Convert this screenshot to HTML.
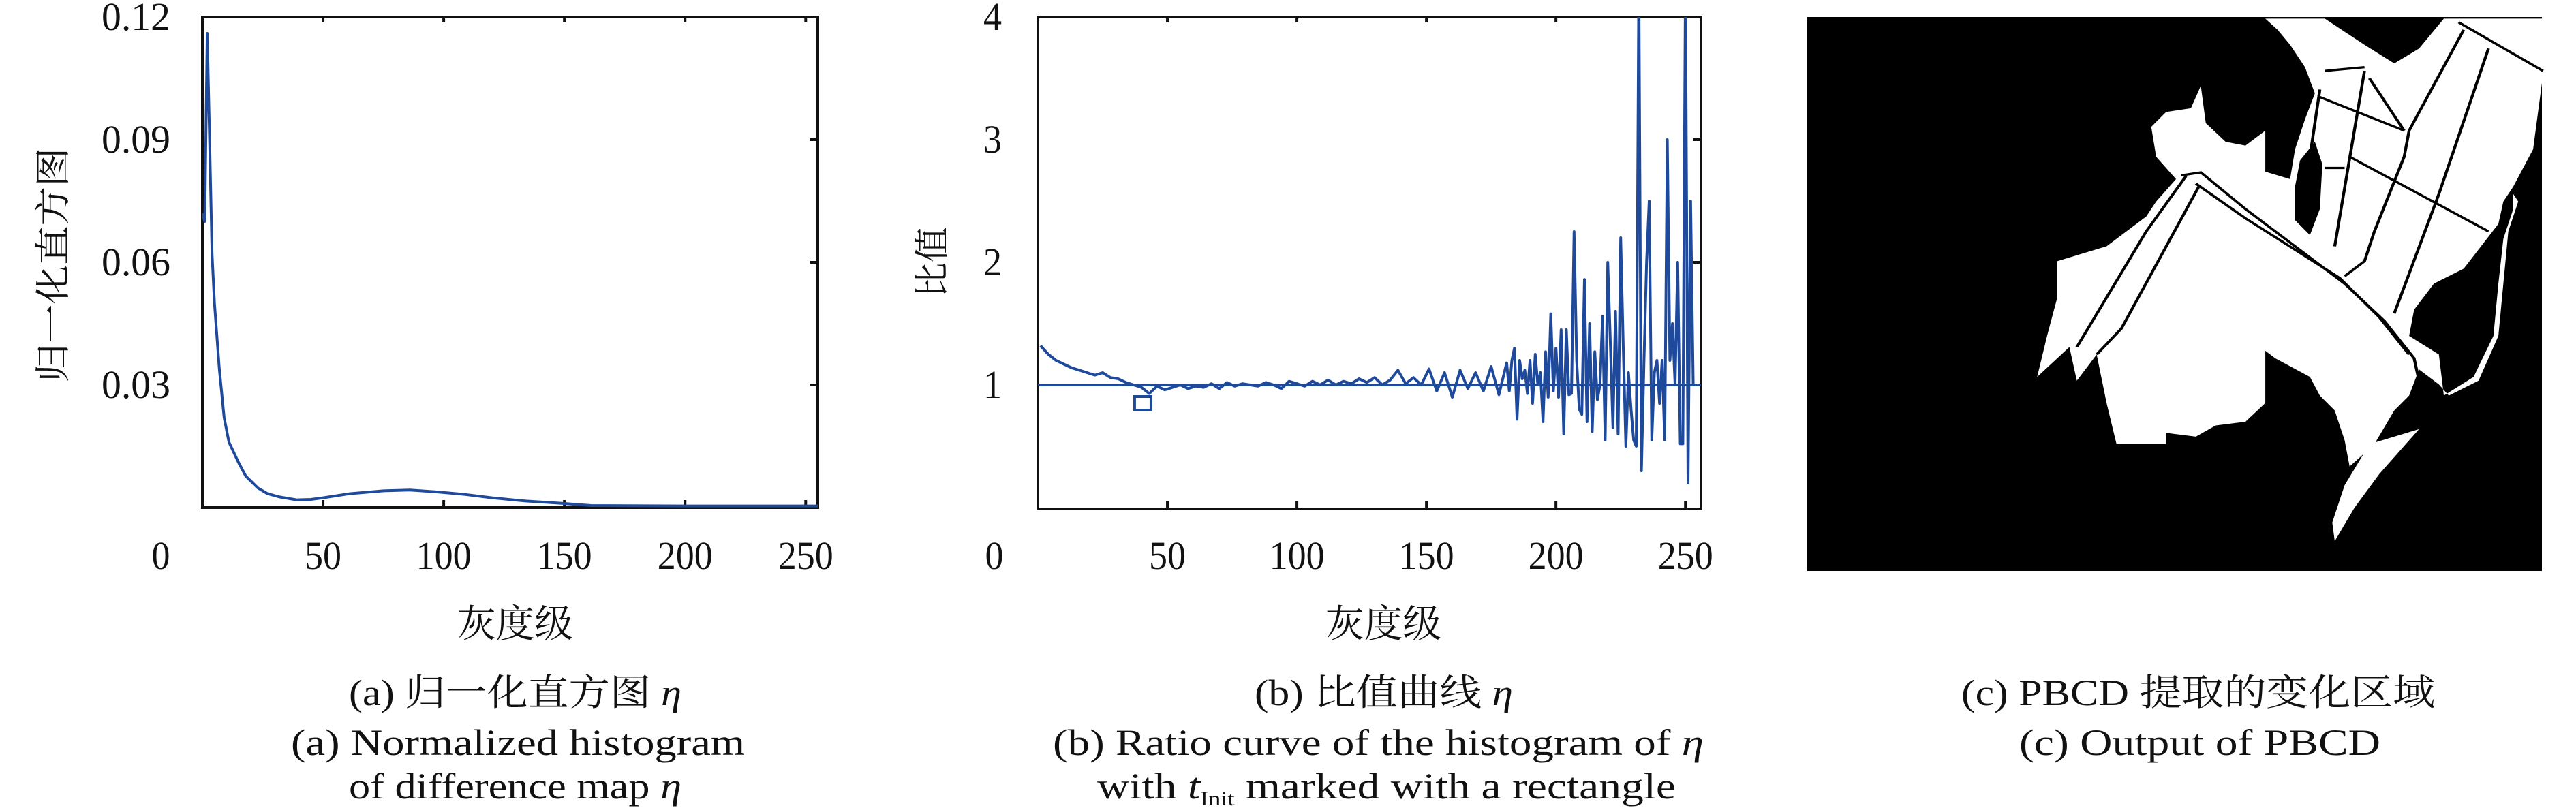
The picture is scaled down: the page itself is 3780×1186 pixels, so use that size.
<!DOCTYPE html>
<html><head><meta charset="utf-8">
<style>
html,body{margin:0;padding:0;background:#fff;}
body{width:3780px;height:1186px;position:relative;overflow:hidden;}
svg{position:absolute;left:0;top:0;}
text{font-family:"Liberation Serif","Noto Serif CJK SC",serif;fill:#111;}
</style></head>
<body>
<svg id="main" width="3780" height="1186" viewBox="0 0 3780 1186" xmlns="http://www.w3.org/2000/svg">
  <defs>
    <clipPath id="clip1"><rect x="297" y="25" width="903" height="720"/></clipPath>
    <clipPath id="clip2"><rect x="1523" y="25" width="973" height="722"/></clipPath>
  </defs>
  <g id="chart1"></g>
  <g id="chart2"></g>

  <text x="756" y="935" font-size="56" text-anchor="middle" textLength="170" lengthAdjust="spacingAndGlyphs">灰度级</text>
  <text x="2030" y="935" font-size="56" text-anchor="middle" textLength="170" lengthAdjust="spacingAndGlyphs">灰度级</text>
  <text transform="translate(96,389) rotate(-90)" font-size="52" text-anchor="middle" textLength="345" lengthAdjust="spacingAndGlyphs">归一化直方图</text>
  <text transform="translate(1386,385) rotate(-90)" font-size="52" text-anchor="middle" textLength="104" lengthAdjust="spacingAndGlyphs">比值</text>

  <text x="512" y="1035" font-size="54" textLength="488" lengthAdjust="spacingAndGlyphs">(a) 归一化直方图 <tspan font-style="italic">η</tspan></text>
  <text x="427" y="1108" font-size="54" textLength="666" lengthAdjust="spacingAndGlyphs">(a) Normalized histogram</text>
  <text x="512" y="1172" font-size="54" textLength="488" lengthAdjust="spacingAndGlyphs">of difference map <tspan font-style="italic">η</tspan></text>
  <text x="1841" y="1035" font-size="54" textLength="379" lengthAdjust="spacingAndGlyphs">(b) 比值曲线 <tspan font-style="italic">η</tspan></text>
  <text x="1545" y="1108" font-size="54" textLength="955" lengthAdjust="spacingAndGlyphs">(b) Ratio curve of the histogram of <tspan font-style="italic">η</tspan></text>
  <text x="1610" y="1172" font-size="54" textLength="849" lengthAdjust="spacingAndGlyphs">with <tspan font-style="italic">t</tspan><tspan font-size="30" dy="10">Init</tspan><tspan dy="-10"> marked with a rectangle</tspan></text>
  <text x="2878" y="1035" font-size="54" textLength="695" lengthAdjust="spacingAndGlyphs">(c) PBCD 提取的变化区域</text>
  <text x="2963" y="1108" font-size="54" textLength="530" lengthAdjust="spacingAndGlyphs">(c) Output of PBCD</text>

  <rect x="2652" y="25" width="1078" height="813" fill="#000"/>
  <svg x="2640" y="0" width="1128" height="860" viewBox="0 0 1550 1570" preserveAspectRatio="none">
    <path fill="#fff" d="M940,50 L1060,50 L1140,120 L1200,170 L1250,130 L1300,50 L1498,50 L1498,220 L1480,400 L1440,500 L1420,540 L1410,600 L1340,720 L1280,760 L1240,830 L1230,900 L1290,950 L1300,1060 L1360,1010 L1400,900 L1410,760 L1420,640 L1440,560 L1440,520 L1450,540 L1430,620 L1420,760 L1410,900 L1370,1020 L1310,1060 L1290,1030 L1250,990 L1230,1060 L1200,1100 L1160,1190 L1110,1250 L1100,1180 L1080,1100 L1050,1060 L1030,1010 L960,960 L940,940 L940,1080 L900,1130 L840,1140 L800,1170 L740,1160 L740,1190 L640,1190 L620,1080 L600,950 L560,1020 L545,930 L480,1010 L500,900 L520,800 L520,700 L620,660 L700,580 L720,540 L760,480 L740,450 L720,420 L710,340 L740,300 L790,290 L810,230 L820,330 L860,380 L900,390 L940,350 L940,460 L990,480 L1000,400 L1020,320 L1040,250 L1020,180 L990,120 L965,80 Z"/>
    <path fill="#fff" d="M1150,1190 L1250,1150 L1170,1270 L1120,1360 L1080,1450 L1075,1400 L1100,1300 Z"/>
    <path fill="#000" d="M1010,430 L1040,380 L1055,440 L1050,560 L1030,630 L1000,590 L1000,500 Z"/>
    <g fill="none" stroke="#000" stroke-width="6">
      <polyline points="770,470 810,462 900,560 1100,760 1180,860 1240,960 1250,1020"/>
      <polyline points="800,492 900,585 1090,745 1170,850 1230,950"/>
      <polyline points="808,495 650,880 600,950"/>
      <polyline points="780,472 700,620 560,930"/>
      <polyline points="1340,80 1230,350 1220,420 1160,620 1140,700 1100,740"/>
      <polyline points="1390,130 1290,520 1200,840"/>
      <polyline points="1330,60 1500,190"/>
      <polyline points="1050,260 1220,350"/>
      <polyline points="1140,190 1080,660"/>
      <polyline points="1150,210 1220,350"/>
      <polyline points="1110,420 1390,620"/>
      <polyline points="1060,190 1140,180"/>
      <polyline points="1050,240 1030,420"/>
      <polyline points="1060,450 1100,450"/>
    </g>
  </svg>
</svg>
<script>
// ---- Chart (a): normalized histogram ----
const histLevels = [0, 1, 2, 3, 4, 5, 7, 9, 11, 15, 18, 23, 27, 32, 39, 45, 50, 61, 75, 86, 98, 109, 120, 134, 150, 161, 200, 255];
const histValues = [0.072, 0.07, 0.116, 0.09, 0.062, 0.05, 0.034, 0.022, 0.016, 0.011, 0.0077, 0.0048, 0.0034, 0.0026, 0.0019, 0.002, 0.0024, 0.0034, 0.0041, 0.0043, 0.0038, 0.0032, 0.0024, 0.0016, 0.001, 0.0005, 0.0004, 0.0004];
const histXTicks = [0, 50, 100, 150, 200, 250];
const histYTicks = [0.03, 0.06, 0.09, 0.12];
const histYTickLabels = ["0.03", "0.06", "0.09", "0.12"];

// ---- Chart (b): ratio curve ----
const ratioLevels = [1,4,7,10,13,16,19,22,25,28,31,34,37,40,43,46,49,52,55,58,61,64,67,70,73,76,79,82,85,88,91,94,97,100,103,106,109,112,115,118,121,124,127,130,133,136,139,142,145,148,151,154,157,160,163,166,169,172,175,178,
181,182,183,184,185,186,187,188,189,190,191,192,193,194,195,196,197,198,199,200,201,202,203,204,205,206,207,208,209,210,211,212,213,214,215,216,217,218,219,220,221,222,223,224,225,226,227,228,229,230,231,232,233,234,235,236,237,238,239,240,241,242,243,244,245,246,247,248,249,250,251,252,253];
const ratioValues = [1.32,1.25,1.2,1.17,1.14,1.12,1.1,1.08,1.1,1.06,1.05,1.02,1.0,0.98,0.93,0.99,0.96,0.98,1.0,0.97,0.99,0.98,1.01,0.97,1.02,0.99,1.01,1.0,0.99,1.02,1.0,0.97,1.03,1.01,0.99,1.03,1.0,1.04,1.0,1.03,1.01,1.05,1.02,1.06,1.0,1.04,1.12,1.01,1.06,1.0,1.13,0.95,1.1,0.9,1.12,0.97,1.1,0.95,1.15,0.92,
1.18,0.95,1.2,1.3,0.72,1.2,1.05,1.12,0.93,1.2,0.85,1.25,1.0,1.1,0.7,1.27,0.9,1.58,0.95,1.3,0.9,1.45,0.6,1.45,0.92,0.93,2.25,1.2,0.8,0.76,1.86,0.7,1.5,0.62,1.27,0.88,1.0,1.56,0.55,2.0,1.35,0.65,1.6,0.6,2.2,1.3,0.5,1.1,0.8,0.55,0.5,4.3,0.3,1.2,2.0,2.5,0.55,1.1,1.2,0.85,1.2,0.55,3.0,1.2,1.5,1.0,2.0,0.52,0.52,4.3,0.2,2.5,1.0];
const ratioXTicks = [0, 50, 100, 150, 200, 250];
const ratioYTicks = [1, 2, 3, 4];
const ratioYTickLabels = ["1", "2", "3", "4"];
const baselineValue = [1];
const tInitLevel = [40.5];
const tInitValue = [0.85];

const NS = "http://www.w3.org/2000/svg";
function mk(tag, attrs, parent) {
  const el = document.createElementNS(NS, tag);
  for (const k in attrs) el.setAttribute(k, attrs[k]);
  parent.appendChild(el);
  return el;
}
const BLUE = "#1f4a9c";

function drawAxesFrame(g, L, R, T, B, xs, ys, xTicks, yTicks, yLabels, yLabelRight, xLabelY, zeroLabelX, nameKey) {
  const frame = mk("rect", {x: L, y: T, width: R - L, height: B - T, fill: "none", stroke: "#111", "stroke-width": 4}, g);
  
  
  xTicks.forEach(v => {
    const x = xs(v);
    if (v > 0) {
      const t1 = mk("line", {x1: x, x2: x, y1: B, y2: B - 11, stroke: "#111", "stroke-width": 4}, g);
      
      
      const t2 = mk("line", {x1: x, x2: x, y1: T, y2: T + 8, stroke: "#111", "stroke-width": 4}, g);
      
      
    }
    const lx = v === 0 ? zeroLabelX : x;
    const s = String(v);
    const lab = mk("text", {x: lx, y: xLabelY, "font-size": 58, "text-anchor": "middle", textLength: s.length * 27, lengthAdjust: "spacingAndGlyphs"}, g);
    lab.textContent = s;
    
    
  });
  yTicks.forEach((v, i) => {
    const y = ys(v);
    const t = mk("line", {x1: R, x2: R - 11, y1: y, y2: y, stroke: "#111", "stroke-width": 4}, g);
    
    
    const s = yLabels[i];
    const w = s.length === 1 ? 27 : 101;
    const lab = mk("text", {x: yLabelRight, y: y + 19, "font-size": 58, "text-anchor": "end", textLength: w, lengthAdjust: "spacingAndGlyphs"}, g);
    lab.textContent = s;
    
    
  });
}

// Chart (a)
(function () {
  const g = document.getElementById("chart1");
  const L = 297, R = 1200, T = 25, B = 745;
  const xs = v => L + (v / 255) * (R - L);
  const ys = v => B - (v / 0.12) * (B - T);
  drawAxesFrame(g, L, R, T, B, xs, ys, histXTicks, histYTicks, histYTickLabels, 250, 835, 236, "hist");
  const pts = histLevels.map((lv, i) => xs(lv).toFixed(1) + "," + ys(histValues[i]).toFixed(1)).join(" ");
  const line = mk("polyline", {points: pts, fill: "none", stroke: BLUE, "stroke-width": 4, "stroke-linejoin": "round", "clip-path": "url(#clip1)"}, g);
  
  
})();

// Chart (b)
(function () {
  const g = document.getElementById("chart2");
  const L = 1523, R = 2496, T = 25, B = 747;
  const xs = v => L + (v / 256) * (R - L);
  const ys = v => 745 - (v / 4) * (745 - 25);
  drawAxesFrame(g, L, R, T, B, xs, ys, ratioXTicks, ratioYTicks, ratioYTickLabels, 1470, 835, 1459, "ratio");
  const base = mk("line", {x1: L, x2: R, y1: ys(baselineValue[0]), y2: ys(baselineValue[0]), stroke: BLUE, "stroke-width": 4}, g);
  
  
  const pts = ratioLevels.map((lv, i) => xs(lv).toFixed(1) + "," + ys(ratioValues[i]).toFixed(1)).join(" ");
  const line = mk("polyline", {points: pts, fill: "none", stroke: BLUE, "stroke-width": 4, "stroke-linejoin": "round", "clip-path": "url(#clip2)"}, g);
  
  
  const cx = xs(tInitLevel[0]), cy = ys(tInitValue[0]);
  const mark = mk("rect", {x: cx - 12, y: cy - 10, width: 24, height: 20, fill: "none", stroke: BLUE, "stroke-width": 4}, g);
  
  
})();
</script>
</body></html>
